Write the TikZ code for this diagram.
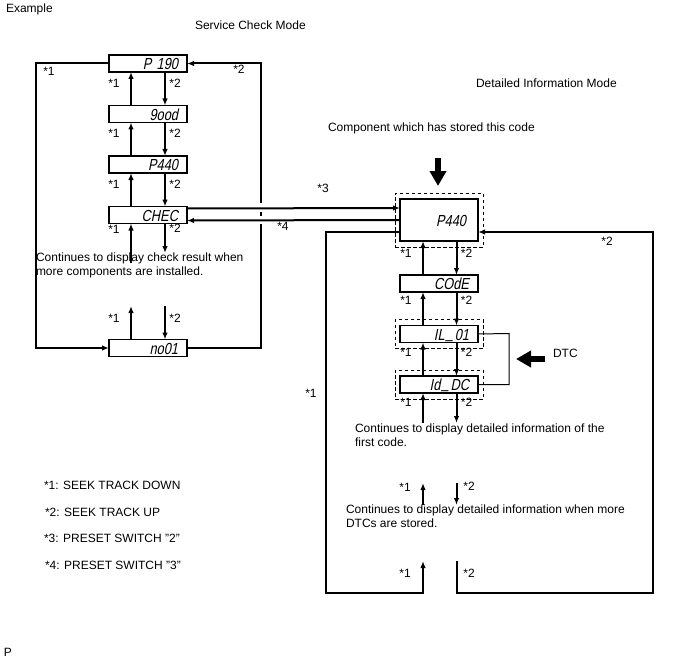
\documentclass[tikz,border=0pt]{standalone}
\usepackage{fontspec}
\setmainfont{Liberation Sans}
\newfontfamily\segfont[FakeSlant=0.2,FakeStretch=0.8]{Liberation Sans}
\usetikzlibrary{positioning,arrows.meta,fit}
\newcommand{\segbar}{\kern1.5pt\raisebox{2pt}{\_}\kern1.5pt}

\begin{document}
\begin{tikzpicture}[x=1pt, y=-1pt, >={Latex[length=7pt,width=5.5pt]}, line width=2pt, node distance=33.5pt,
	font=\fontsize{12}{14}\selectfont,
	disp/.style={draw, line width=1.6pt, outer sep=0pt, minimum width=78pt, minimum height=17pt, inner xsep=9pt, inner ysep=0pt, text width=60pt, text height=12.5pt, text depth=0pt, align=right, font=\segfont\fontsize{16}{16}\selectfont},
	dashbox/.style={draw, line width=1pt, dash pattern=on 3.5pt off 2.5pt, inner xsep=5pt, inner ysep=6pt},
	txt/.style={inner sep=0pt, anchor=north west, align=left},
	lbla/.style={left, xshift=-7pt},
	lblb/.style={right},
	fat/.style={line width=6pt, -{Triangle[length=15pt,width=16pt]}}]
	\useasboundingbox (0,0) rectangle (688,658);

	\node [txt, anchor=west] (ex) at (5,9) {Example};
	\node [txt, anchor=west] (scm) at (194,25) {Service Check Mode};
	\node [txt, anchor=west] (dim) at (475,83) {Detailed Information Mode};
	\node [txt, anchor=west] (comp) at (327,128) {Component which has stored this code};

	\node [disp] (p190) at (148,63.5) {P 190};
	\node [disp, below=of p190] (good) {9ood};
	\node [disp, below=of good] (p440) {P440};
	\node [disp, below=of p440] (chec) {CHEC};
	\node [disp] (no01) at (148,348) {no01};

	\foreach \a/\b in {p190/good, good/p440, p440/chec}{
		\draw [->] ([xshift=-17pt]\b.north) -- node [lbla, pos=0.67] {*1} ([xshift=-17pt]\a.south);
		\draw [->] ([xshift=17pt]\a.south) -- node [lblb, pos=0.33] {*2} ([xshift=17pt]\b.north);
	}

	\coordinate (cu) at (131,263);
	\coordinate (cd) at (165,253);
	\draw [->] (cu) -- node [lbla, pos=0.86] {*1} ([xshift=-17pt]chec.south);
	\draw [->] ([xshift=17pt]chec.south) -- node [lblb, pos=0.17] {*2} (cd);
	\node [txt] (t1) at (35,251.5) {Continues to display check result when\\more components are installed.};

	\coordinate (nu) at (131,306);
	\coordinate (nd) at (165,306);
	\draw [->] ([xshift=-17pt]no01.north) -- node [lbla, pos=0.64] {*1} (nu);
	\draw [->] (nd) -- node [lblb, pos=0.36] {*2} ([xshift=17pt]no01.north);

	\coordinate (lc) at (36,63.5);
	\draw [->] (p190.west) -- (lc) |- (no01.west);
	\node (s1) at (49,71) {*1};
	\coordinate (rc) at (261,348);
	\draw [->] (no01.east) -- (rc) |- (p190.east);
	\node (s2) at (239,69) {*2};

	\node [disp, minimum height=42pt, inner xsep=12pt, text width=54pt] (big) at (439,220) {P440};
	\node [dashbox, fit=(big)] (bigd) {};
	\node [disp] (code) at (439,283.5) {COdE};
	\node [disp, below=of code] (il01) {IL\segbar01};
	\node [disp, below=of il01] (iddc) {Id\segbar DC};
	\node [dashbox, fit=(il01)] (il01d) {};
	\node [dashbox, fit=(iddc)] (iddcd) {};

	\fill [white] (257,203) rectangle (265,212);
	\fill [white] (257,216) rectangle (265,224);
	\draw [->] ([yshift=6.5pt]chec.east) -- ([yshift=12pt]big.west);
	\draw [->] (big.west) -- ([yshift=-5.5pt]chec.east);
	\node (s3) at (323,188) {*3};
	\node (s4) at (283,226) {*4};

	\coordinate (ta) at (438,158);
	\coordinate (tb) at (438,186);
	\draw [fat] (ta) -- (tb);

	\foreach \a/\b/\p/\q in {big/code/0.65/0.35, code/il01/0.75/0.25, il01/iddc/0.7/0.3}{
		\draw [->] ([xshift=-16pt]\b.north) -- node [lbla, pos=\p] {*1} ([xshift=-16pt]\a.south);
		\draw [->] ([xshift=17.5pt]\a.south) -- node [lblb, pos=\q] {*2} ([xshift=17.5pt]\b.north);
	}

	\coordinate (dtcb) at (509,333.5);
	\draw [line width=1pt] (il01.east) -- (dtcb) |- (iddc.east);
	\coordinate (da) at (545,359);
	\coordinate (db) at (516,359);
	\draw [fat] (da) -- (db);
	\node [txt, anchor=west] (dtc) at (552,353) {DTC};

	\coordinate (du) at (423,423);
	\coordinate (dd) at (456.5,423);
	\draw [->] (du) -- node [lbla, pos=0.68] {*1} ([xshift=-16pt]iddc.south);
	\draw [->] ([xshift=17.5pt]iddc.south) -- node [lblb, pos=0.32] {*2} (dd);
	\node [txt] (t2) at (354,422.5) {Continues to display detailed information of the\\first code.};

	\coordinate (mu1) at (423,505);
	\coordinate (mu2) at (423,483);
	\coordinate (md1) at (456.5,483);
	\coordinate (md2) at (456.5,505);
	\draw [->] (mu1) -- (mu2);
	\draw [->] (md1) -- (md2);
	\node (m1) at (405,487) {*1};
	\node (m2) at (469,486) {*2};
	\node [txt] (t3) at (345,503.5) {Continues to display detailed information when more\\DTCs are stored.};

	\coordinate (bl) at (326,593);
	\coordinate (bu) at (423,561);
	\coordinate (bd) at (456.5,561);
	\coordinate (br) at (653,593);
	\draw [->] ([yshift=-12pt]big.west) -| (bl) -| (bu);
	\draw [->] (bd) |- (br) |- ([yshift=-12pt]big.east);
	\node (b1) at (405,573) {*1};
	\node (b2) at (469,573) {*2};
	\node (r1) at (311,393) {*1};
	\node (r2) at (607,241) {*2};

	\node [txt, anchor=west] (k1) at (43,485) {*1: SEEK TRACK DOWN};
	\node [txt, anchor=west] (k2) at (44,512) {*2: SEEK TRACK UP};
	\node [txt, anchor=west] (k3) at (43,538) {*3: PRESET SWITCH {\char34}2{\char34}};
	\node [txt, anchor=west] (k4) at (44,565) {*4: PRESET SWITCH {\char34}3{\char34}};
	\node [txt, anchor=west] (pp) at (3,652) {P};
\end{tikzpicture}
\end{document}
